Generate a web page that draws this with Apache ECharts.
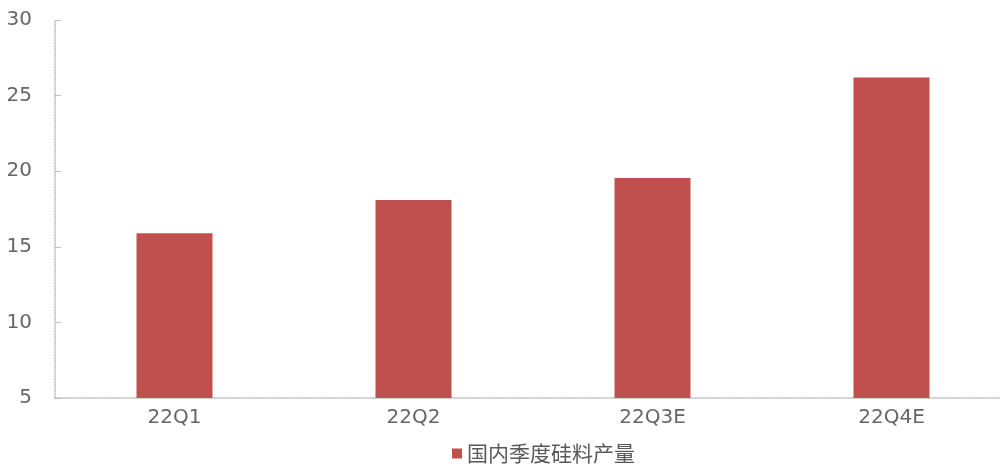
<!DOCTYPE html>
<html>
<head>
<meta charset="utf-8">
<script src="https://cdn.jsdelivr.net/npm/echarts@6/dist/echarts.min.js"></script>
<style>html,body{margin:0;padding:0;background:#fff;}#c{width:1000px;height:464px;}</style>
</head>
<body>
<div id="c"></div>
<script>
const categories = ['22Q1', '22Q2', '22Q3E', '22Q4E'];
const seriesName = '国内季度硅料产量';
const values = [15.9, 18.1, 19.55, 26.2];
const yTicks = { min: 5, max: 30, interval: 5 };

const chart = echarts.init(document.getElementById('c'));
chart.setOption({
  animation: false,
  backgroundColor: '#fff',
  grid: { left: 55, right: -11, top: 20, bottom: 66, containLabel: false, outerBoundsMode: 'none' },
  legend: {
    top: 438,
    left: 447,
    itemWidth: 10,
    itemHeight: 10,
    icon: 'rect',
    itemGap: 4,
    textStyle: { fontFamily: 'Noto Sans CJK SC', fontSize: 21, color: '#595959' },
    data: [seriesName]
  },
  xAxis: {
    type: 'category',
    data: categories,
    axisLine: { lineStyle: { color: '#bfbfbf', type: 'dotted', width: 1.5 } },
    axisTick: { show: false },
    axisLabel: { color: '#666666', fontSize: 20, fontFamily: 'DejaVu Sans', margin: 10 }
  },
  yAxis: {
    type: 'value',
    min: yTicks.min, max: yTicks.max, interval: yTicks.interval,
    splitLine: { show: false },
    axisLine: { show: true, lineStyle: { color: '#bfbfbf', type: 'dotted', width: 1.5 } },
    axisTick: { show: true, inside: true, length: 6, lineStyle: { color: '#bfbfbf' } },
    axisLabel: { color: '#666666', fontSize: 20, fontFamily: 'DejaVu Sans', margin: 23 }
  },
  series: [{
    name: seriesName,
    type: 'bar',
    data: values,
    barWidth: 76,
    itemStyle: { color: '#c0504d' }
  }]
});
</script>
</body>
</html>
